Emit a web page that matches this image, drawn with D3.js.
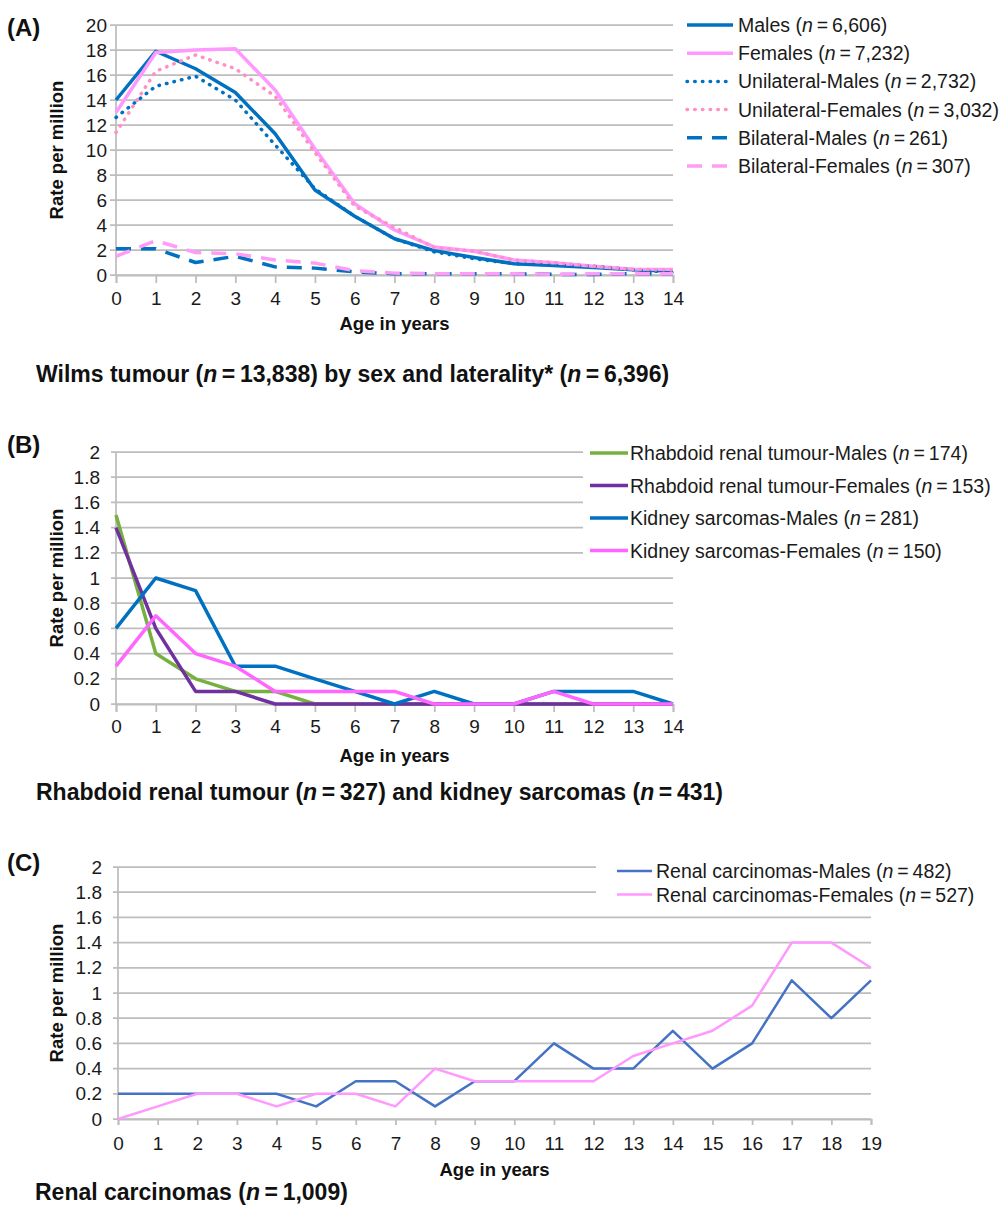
<!DOCTYPE html>
<html lang="en">
<head>
<meta charset="UTF-8">
<title>Kidney tumour rates by age and sex</title>
<style>
  body { margin: 0; background: #fff; }
  svg { display: block; font-family: "Liberation Sans", Arial, sans-serif; }
  .grid line, .yline { stroke: #bdbdbd; stroke-width: 1.75; }
  .axis path, .axis line { stroke: #bdbdbd; stroke-width: 1.75; }
  .axis text { font-family: "Liberation Sans", Arial, sans-serif; font-size: 19px; fill: #1a1a1a; }
  .axis-title { font-size: 18.5px; font-weight: bold; fill: #111; }
  .legend text { font-size: 19.5px; fill: #1a1a1a; }
  .panel-label { font-size: 24px; font-weight: bold; fill: #111; }
  .caption { font-weight: bold; fill: #111; }
</style>
<script src="https://cdn.jsdelivr.net/npm/d3@7"></script>
</head>
<body>
<div id="chart"></div>
<script>
// ---- data ----
const agesA = [0, 1, 2, 3, 4, 5, 6, 7, 8, 9, 10, 11, 12, 13, 14];
const agesC = [0, 1, 2, 3, 4, 5, 6, 7, 8, 9, 10, 11, 12, 13, 14, 15, 16, 17, 18, 19];
const yTicksA = [0, 2, 4, 6, 8, 10, 12, 14, 16, 18, 20];
const yTicksBC = [0, 0.2, 0.4, 0.6, 0.8, 1, 1.2, 1.4, 1.6, 1.8, 2];

// (A) Wilms tumour
const wilmsMales     = [14.0, 17.9, 16.5, 14.6, 11.3, 6.8, 4.7, 2.9, 1.95, 1.4, 0.9, 0.75, 0.6, 0.42, 0.3];
const wilmsFemales   = [13.0, 17.8, 18.0, 18.1, 14.8, 10.1, 5.7, 3.6, 2.25, 1.9, 1.2, 0.98, 0.7, 0.47, 0.45];
const uniMales       = [12.6, 15.1, 15.9, 14.0, 10.4, 6.9, 4.7, 2.9, 1.85, 1.3, 0.9, 0.8, 0.7, 0.42, 0.2];
const uniFemales     = [11.4, 16.3, 17.6, 16.5, 14.3, 9.8, 5.5, 3.8, 2.2, 1.9, 1.2, 1.0, 0.7, 0.45, 0.4];
const bilatMales     = [2.1, 2.1, 1.0, 1.5, 0.65, 0.55, 0.25, 0.1, 0.1, 0.1, 0.1, 0.05, 0.05, 0.1, 0.1];
const bilatFemales   = [1.5, 2.75, 1.8, 1.7, 1.2, 0.95, 0.35, 0.15, 0.1, 0.1, 0.1, 0.05, 0.1, 0.1, 0.1];
const namesA  = ["Males", "Females", "Unilateral-Males", "Unilateral-Females", "Bilateral-Males", "Bilateral-Females"];
const countsA = ["6,606", "7,232", "2,732", "3,032", "261", "307"];

// (B) Rhabdoid renal tumour and kidney sarcomas
const rhabMales   = [1.5, 0.4, 0.2, 0.1, 0.1, 0, 0, 0, 0, 0, 0, 0, 0, 0, 0];
const rhabFemales = [1.4, 0.6, 0.1, 0.1, 0, 0, 0, 0, 0, 0, 0, 0, 0, 0, 0];
const sarcMales   = [0.6, 1.0, 0.9, 0.3, 0.3, 0.2, 0.1, 0, 0.1, 0, 0, 0.1, 0.1, 0.1, 0];
const sarcFemales = [0.3, 0.7, 0.4, 0.3, 0.1, 0.1, 0.1, 0.1, 0, 0, 0, 0.1, 0, 0, 0];
const namesB  = ["Rhabdoid renal tumour-Males", "Rhabdoid renal tumour-Females", "Kidney sarcomas-Males", "Kidney sarcomas-Females"];
const countsB = ["174", "153", "281", "150"];

// (C) Renal carcinomas
const rcMales   = [0.2, 0.2, 0.2, 0.2, 0.2, 0.1, 0.3, 0.3, 0.1, 0.3, 0.3, 0.6, 0.4, 0.4, 0.7, 0.4, 0.6, 1.1, 0.8, 1.1];
const rcFemales = [0, 0.1, 0.2, 0.2, 0.1, 0.2, 0.2, 0.1, 0.4, 0.3, 0.3, 0.3, 0.3, 0.5, 0.6, 0.7, 0.9, 1.4, 1.4, 1.2];
const namesC  = ["Renal carcinomas-Males", "Renal carcinomas-Females"];
const countsC = ["482", "527"];

// ---- drawing ----
const W = 1002, H = 1206;
const THIN = "\u2009";
const svg = d3.select("#chart").append("svg").attr("width", W).attr("height", H);

const dotted = "0.5 7.2", dashed = "15 10";

function drawPanel(p) {
  const x = d3.scaleLinear().domain(d3.extent(p.ages)).range([p.left, p.right]);
  const y = d3.scaleLinear().domain([0, p.yMax]).range([p.bottom, p.top]);
  const g = svg.append("g");

  // horizontal gridlines
  g.append("g").attr("class", "grid")
    .selectAll("line").data(p.yTicks).join("line")
    .attr("x1", p.left - p.gridOut).attr("x2", p.right)
    .attr("y1", d => y(d)).attr("y2", d => y(d));

  g.append("line").attr("class", "yline")
    .attr("x1", p.left).attr("x2", p.left)
    .attr("y1", y(p.yMax)).attr("y2", y(0));

  // y tick labels
  g.append("g").attr("class", "axis")
    .attr("transform", `translate(${p.left},0)`)
    .call(d3.axisLeft(y).tickValues(p.yTicks).tickSize(0).tickPadding(p.yPad)
      .tickFormat(d => String(+d.toFixed(1))))
    .call(a => a.select(".domain").remove());

  // x axis
  g.append("g").attr("class", "axis")
    .attr("transform", `translate(0,${p.bottom})`)
    .call(d3.axisBottom(x).tickValues(p.ages).tickSize(p.tickLen).tickSizeOuter(p.tickLen)
      .tickPadding(p.xPad).tickFormat(d3.format("d")));

  // series
  const line = d3.line().x((d, i) => x(p.ages[i])).y(d => y(d));
  p.series.forEach(s => {
    g.append("path").datum(s.values)
      .attr("d", line)
      .attr("fill", "none")
      .attr("stroke", s.color)
      .attr("stroke-width", p.lineWidth)
      .attr("stroke-linejoin", "round")
      .attr("stroke-linecap", s.dash === dotted ? "round" : "butt")
      .attr("stroke-dasharray", s.dash || null);
  });

  // axis titles
  g.append("text").attr("class", "axis-title")
    .attr("text-anchor", "middle")
    .attr("transform", `translate(63,${(p.top + p.bottom) / 2}) rotate(-90)`)
    .text("Rate per million");
  g.append("text").attr("class", "axis-title")
    .attr("text-anchor", "middle")
    .attr("x", (p.left + p.right) / 2).attr("y", p.xTitleY)
    .text("Age in years");

  // legend
  const lg = g.append("g").attr("class", "legend");
  if (p.legendBg) {
    lg.append("rect").attr("x", p.legendBg[0]).attr("y", p.legendBg[1])
      .attr("width", p.legendBg[2]).attr("height", p.legendBg[3]).attr("fill", "#fff");
  }
  p.series.forEach((s, i) => {
    const cy = p.legend.y + i * p.legend.step;
    lg.append("line")
      .attr("x1", p.legend.x1).attr("x2", p.legend.x2)
      .attr("y1", cy).attr("y2", cy)
      .attr("stroke", s.color).attr("stroke-width", p.lineWidth)
      .attr("stroke-linecap", s.dash === dotted ? "round" : "butt")
      .attr("stroke-dasharray", s.dash || null);
    const t = lg.append("text").attr("x", p.legend.tx).attr("y", cy + 7);
    t.append("tspan").text(`${s.name} (`);
    t.append("tspan").attr("font-style", "italic").text("n");
    t.append("tspan").text(`${THIN}=${THIN}${s.count})`);
  });

  // panel letter
  svg.append("text").attr("class", "panel-label")
    .attr("x", 7).attr("y", p.labelY).text(p.label);
}

function caption(parts, x, y, size) {
  const t = svg.append("text").attr("class", "caption")
    .attr("x", x).attr("y", y).attr("font-size", size);
  parts.forEach((s, i) => {
    t.append("tspan").attr("font-style", i % 2 ? "italic" : null).text(s);
  });
}

const mk = (names, counts, values, styles) =>
  names.map((name, i) => ({ name, count: counts[i], values: values[i], color: styles[i][0], dash: styles[i][1] }));

drawPanel({
  label: "(A)", labelY: 36,
  ages: agesA, yMax: 20, yTicks: yTicksA,
  left: 116, right: 673, top: 25, bottom: 275,
  gridOut: 6, yPad: 9, tickLen: 8, xPad: 9, xTitleY: 330, lineWidth: 3.5,
  series: mk(namesA, countsA,
    [wilmsMales, wilmsFemales, uniMales, uniFemales, bilatMales, bilatFemales],
    [["#0070C0", null], ["#FF99FF", null], ["#0070C0", dotted], ["#FF8FC5", dotted],
     ["#0070C0", dashed], ["#FF9CF5", dashed]]),
  legend: { x1: 687, x2: 733, tx: 738, y: 25, step: 28.2 }
});
caption(["Wilms tumour (", "n", `${THIN}=${THIN}13,838) by sex and laterality* (`, "n", `${THIN}=${THIN}6,396)`],
  36, 382, 23);

drawPanel({
  label: "(B)", labelY: 453,
  ages: agesA, yMax: 2, yTicks: yTicksBC,
  left: 116, right: 673, top: 452, bottom: 704,
  gridOut: 5, yPad: 16, tickLen: 8, xPad: 8, xTitleY: 762, lineWidth: 3.5,
  series: mk(namesB, countsB,
    [rhabMales, rhabFemales, sarcMales, sarcFemales],
    [["#76B041", null], ["#7030A0", null], ["#0070C0", null], ["#FF66FF", null]]),
  legendBg: [583, 438, 419, 129],
  legend: { x1: 590, x2: 628, tx: 630, y: 453, step: 32.5 }
});
caption(["Rhabdoid renal tumour (", "n", `${THIN}=${THIN}327) and kidney sarcomas (`, "n", `${THIN}=${THIN}431)`],
  36, 800, 23);

drawPanel({
  label: "(C)", labelY: 871,
  ages: agesC, yMax: 2, yTicks: yTicksBC,
  left: 118, right: 871, top: 867, bottom: 1119,
  gridOut: 5, yPad: 16, tickLen: 6, xPad: 12, xTitleY: 1176, lineWidth: 2.5,
  series: mk(namesC, countsC,
    [rcMales, rcFemales],
    [["#4472C4", null], ["#FF99FF", null]]),
  legendBg: [596, 856, 406, 48],
  legend: { x1: 617, x2: 652, tx: 656, y: 871, step: 23.5 }
});
caption(["Renal carcinomas (", "n", `${THIN}=${THIN}1,009)`], 35, 1200, 23);
</script>
</body>
</html>
